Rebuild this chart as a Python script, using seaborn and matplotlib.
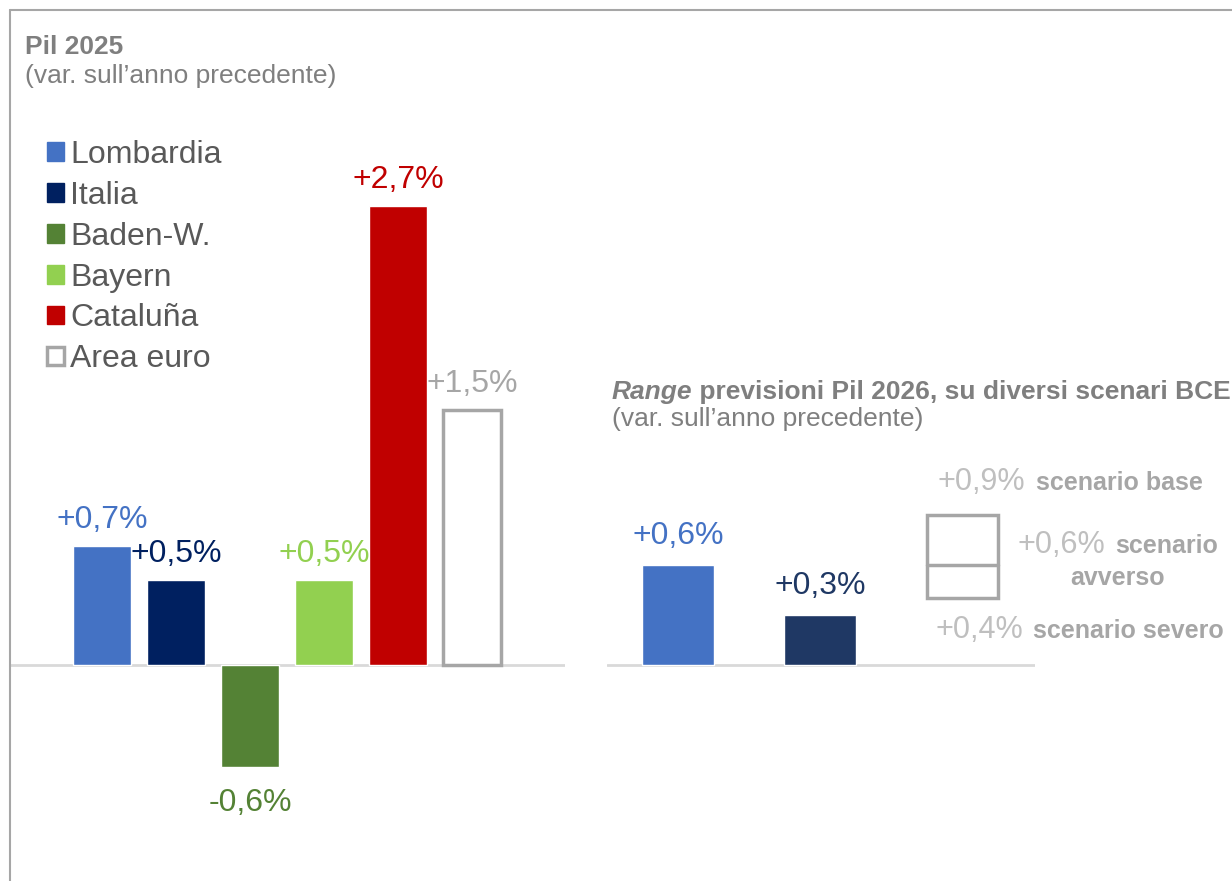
import matplotlib
matplotlib.use('Agg')
import matplotlib.pyplot as plt
import seaborn as sns
from matplotlib.patches import Patch
from matplotlib.lines import Line2D

# ---------------------------------------------
# Dati
# ---------------------------------------------
regioni = ["Lombardia", "Italia", "Baden-W.", "Bayern", "Cataluña", "Area euro"]
pil_2025 = [0.7, 0.5, -0.6, 0.5, 2.7, 1.5]
colori_2025 = ["#4472C4", "#002060", "#548235", "#92D050", "#C00000", "#FFFFFF"]
colori_etichette = ["#4472C4", "#002060", "#548235", "#92D050", "#C00000", "#A6A6A6"]

regioni_2026 = ["Lombardia", "Italia"]
pil_2026 = [0.6, 0.3]
colori_2026 = ["#4472C4", "#1F3864"]

# range scenari BCE (area euro 2026)
scenario_base = 0.9
scenario_avverso = 0.6
scenario_severo = 0.4

GRIGIO_TESTO = "#7F7F7F"
GRIGIO_CHIARO = "#BFBFBF"
GRIGIO_BORDO = "#A6A6A6"

def fmt(v):
    return f"{v:+.1f}%".replace(".", ",")

# ---------------------------------------------
# Figura
# ---------------------------------------------
sns.set_style("white")
plt.rcParams['font.family'] = ['Liberation Sans', 'DejaVu Sans']

W, H = 1232, 881
fig = plt.figure(figsize=(W / 100, H / 100), dpi=100)

def fx(px):
    return px / W

def fy(py):
    return 1 - py / H

# cornice
fig.add_artist(Line2D([fx(10), 1], [fy(10), fy(10)], color=GRIGIO_BORDO, lw=1.5, transform=fig.transFigure))
fig.add_artist(Line2D([fx(10), fx(10)], [fy(10), 0], color=GRIGIO_BORDO, lw=1.5, transform=fig.transFigure))

ax1 = fig.add_axes([fx(10), 0, fx(565) - fx(10), 1])
ax2 = fig.add_axes([fx(607), 0, fx(1035) - fx(607), 1])

# ---------------------------------------------
# Pannello sinistro: Pil 2025
# ---------------------------------------------
sns.barplot(x=regioni, y=pil_2025, hue=regioni, palette=colori_2025, legend=False,
            width=0.78, saturation=1, errorbar=None, ax=ax1, zorder=2)
euro = ax1.patches[-1]
euro.set_edgecolor(GRIGIO_BORDO)
euro.set_linewidth(2.5)
ax1.axhline(0, color="#D9D9D9", lw=2, zorder=1)

for i, v in enumerate(pil_2025):
    off = 18 if v > 0 else -44
    ax1.annotate(fmt(v), xy=(i, v), xytext=(0, off), textcoords="offset pixels",
                 ha="center", va="baseline", fontsize=23, color=colori_etichette[i])

ax1.set_xlim(-1.243, 6.257)
ax1.set_ylim(-216 / 170, 665 / 170)

# ---------------------------------------------
# Pannello destro: range previsioni 2026
# ---------------------------------------------
sns.barplot(x=regioni_2026, y=pil_2026, hue=regioni_2026, palette=colori_2026, legend=False,
            width=0.507, saturation=1, errorbar=None, ax=ax2, zorder=2)
for i, v in enumerate(pil_2026):
    ax2.annotate(fmt(v), xy=(i, v), xytext=(0, 21), textcoords="offset pixels",
                 ha="center", va="baseline", fontsize=23, color=colori_2026[i])

w_box = 0.5
ax2.bar(2, scenario_base - scenario_severo, bottom=scenario_severo, width=w_box,
        facecolor="white", edgecolor=GRIGIO_BORDO, lw=2.5, zorder=2)
ax2.plot([2 - w_box / 2, 2 + w_box / 2], [scenario_avverso, scenario_avverso],
         color=GRIGIO_BORDO, lw=2.5, zorder=3)
ax2.axhline(0, color="#D9D9D9", lw=2, zorder=1)

def etichetta(testo, y, dx, dy, **kw):
    ax2.annotate(testo, xy=(2, y), xytext=(dx, dy), textcoords="offset pixels",
                 va="baseline", annotation_clip=False, **kw)

etichetta(fmt(scenario_base), scenario_base, -25, 25, ha="left", fontsize=22, color=GRIGIO_CHIARO)
etichetta("scenario base", scenario_base, 74, 25, ha="left", fontsize=18, fontweight="bold", color=GRIGIO_BORDO)
etichetta(fmt(scenario_avverso), scenario_avverso, 55, 12, ha="left", fontsize=22, color=GRIGIO_CHIARO)
etichetta("scenario", scenario_avverso, 153, 12, ha="left", fontsize=18, fontweight="bold", color=GRIGIO_BORDO)
etichetta("avverso", scenario_avverso, 156, -20, ha="center", fontsize=18, fontweight="bold", color=GRIGIO_BORDO)
etichetta(fmt(scenario_severo), scenario_severo, -27, -40, ha="left", fontsize=22, color=GRIGIO_CHIARO)
etichetta("scenario severo", scenario_severo, 71, -40, ha="left", fontsize=18, fontweight="bold", color=GRIGIO_BORDO)

ax2.set_xlim(-0.5, 2.514)
ax2.set_ylim(-216 / 166.7, 665 / 166.7)

for ax in (ax1, ax2):
    ax.set_facecolor("none")
    ax.axis("off")

# ---------------------------------------------
# Titoli
# ---------------------------------------------
fig.text(fx(25), fy(54), "Pil 2025", fontsize=19, fontweight="bold", color=GRIGIO_TESTO, va="baseline")
fig.text(fx(25), fy(83), "(var. sull’anno precedente)", fontsize=19, color=GRIGIO_TESTO, va="baseline")

t1 = fig.text(fx(612), fy(399), "Range", fontsize=19, fontweight="bold", fontstyle="italic",
              color=GRIGIO_TESTO, va="baseline")
ax2.annotate(" previsioni Pil 2026, su diversi scenari BCE", xy=(1, 0), xycoords=t1,
             va="bottom", ha="left", fontsize=19, fontweight="bold", color=GRIGIO_TESTO,
             annotation_clip=False)
fig.text(fx(612), fy(426), "(var. sull’anno precedente)", fontsize=19, color=GRIGIO_TESTO, va="baseline")

# ---------------------------------------------
# Legenda
# ---------------------------------------------
maniglie = [Patch(facecolor=c, edgecolor=c) for c in colori_2025[:-1]]
maniglie.append(Patch(facecolor="white", edgecolor=GRIGIO_BORDO, lw=2.5))
fig.legend(maniglie, regioni, loc="upper left", bbox_to_anchor=(fx(47), fy(140)),
           frameon=False, fontsize=23, handlelength=0.52, handleheight=0.52,
           handletextpad=0.2, labelspacing=0.34, borderpad=0, borderaxespad=0,
           labelcolor="#595959")

fig.savefig("out.png", dpi=100)
